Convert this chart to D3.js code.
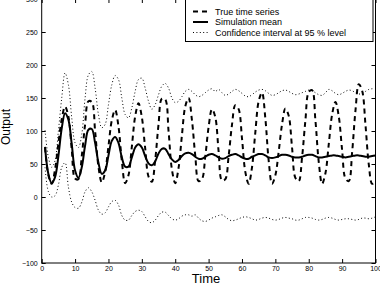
<!DOCTYPE html>
<html>
<head>
<meta charset="utf-8">
<script src="https://cdn.jsdelivr.net/npm/d3@7"></script>
<style>
  html, body { margin: 0; padding: 0; background: #fff; }
  svg { display: block; font-family: "Liberation Sans", Arial, sans-serif; }
</style>
</head>
<body>
<svg id="chart" width="380" height="286"></svg>
<script>
// time steps 1..100
const time = d3.range(1, 101);

const trueSeries = [
  75, 33, 20, 42, 81, 118, 137, 122, 72, 28,
  27, 62, 110, 145, 144, 100, 46, 22, 38, 77,
  116, 132, 107, 55, 21, 33, 76, 122, 142, 121,
  74, 31, 23, 56, 110, 149, 148, 100, 42, 21,
  44, 93, 137, 150, 117, 63, 24, 27, 61, 106,
  133, 121, 69, 25, 27, 62, 109, 139, 133, 89,
  38, 20, 45, 98, 145, 158, 119, 55, 20, 33,
  69, 110, 134, 123, 75, 29, 24, 60, 116, 159,
  162, 116, 53, 20, 36, 80, 125, 144, 122, 71,
  28, 24, 68, 131, 171, 161, 109, 49, 20, 24
];

const simMean = [
  76, 35, 21, 30, 62, 104, 127, 117, 80, 40,
  29, 45, 78, 102, 103, 82, 52, 35, 40, 63,
  85, 91, 82, 60, 46, 46, 60, 75, 80, 75,
  62, 51, 48, 54, 66, 73, 73, 65, 57, 53,
  56, 62, 66, 67, 65, 61, 58, 58, 61, 64,
  65, 63, 60, 58, 59, 62, 64, 65, 63, 60,
  58, 58, 61, 63, 65, 65, 63, 60, 59, 60,
  62, 64, 64, 63, 61, 60, 60, 61, 63, 64,
  64, 62, 60, 60, 61, 62, 63, 63, 62, 61,
  60, 61, 62, 63, 63, 62, 61, 61, 62, 63
];

const ciUpper = [
  101, 60, 45, 55, 100, 150, 188, 170, 120, 82,
  75, 95, 150, 185, 190, 165, 125, 105, 110, 140,
  170, 184, 178, 150, 125, 120, 135, 160, 178, 180,
  165, 145, 133, 140, 155, 168, 172, 165, 150, 143,
  145, 152, 160, 163, 160, 155, 152, 154, 158, 162,
  164, 160, 163, 158, 154, 156, 160, 163, 161, 157,
  153, 152, 155, 159, 162, 163, 161, 157, 154, 155,
  158, 161, 162, 160, 157, 155, 156, 158, 160, 162,
  161, 158, 155, 154, 158, 163, 161, 157, 155, 157,
  160, 162, 161, 158, 156, 157, 160, 163, 164, 164
];

const ciLower = [
  45, 8, 0, 2, 18, 45, 52, 15, -8, -16,
  -17, -8, 8, 14, 8, -5, -20, -26, -24, -15,
  -7, -5, -12, -28, -35, -35, -28, -22, -20, -22,
  -30, -37, -39, -35, -28, -23, -23, -28, -33, -35,
  -33, -29, -27, -27, -29, -27, -32, -36, -37, -35,
  -32, -30, -28, -27, -30, -34, -36, -35, -33, -31,
  -30, -31, -33, -35, -34, -32, -31, -32, -34, -35,
  -34, -32, -31, -32, -33, -35, -35, -33, -31, -31,
  -32, -34, -35, -34, -32, -31, -32, -34, -35, -34,
  -33, -33, -34, -35, -34, -32, -32, -33, -32, -30
];

const xTicks = [0, 10, 20, 30, 40, 50, 60, 70, 80, 90, 100];
const yTicks = [-100, -50, 0, 50, 100, 150, 200, 250, 300];

const legendItems = [
  { label: "True time series", dash: "5,4", width: 2 },
  { label: "Simulation mean", dash: null, width: 2 },
  { label: "Confidence interval at 95 % level", dash: "1,2.4", width: 1 }
];

const svg = d3.select("#chart");
const plotLeft = 41.7, plotRight = 375.5, plotTop = -1, plotBottom = 263;

const x = d3.scaleLinear().domain([0, 100]).range([plotLeft, plotRight]);
const y = d3.scaleLinear().domain([-100, 300]).range([plotBottom, plotTop]);

svg.append("defs").append("clipPath").attr("id", "plotClip")
  .append("rect")
  .attr("x", plotLeft).attr("y", plotTop)
  .attr("width", plotRight - plotLeft).attr("height", plotBottom - plotTop);

const lineFor = (values) => d3.line()
  .x((d, i) => x(time[i]))
  .y((d) => y(d))
  .curve(d3.curveCatmullRom)(values);

const plot = svg.append("g").attr("clip-path", "url(#plotClip)");

plot.append("path").attr("d", lineFor(ciUpper))
  .attr("fill", "none").attr("stroke", "#000")
  .attr("stroke-width", 1).attr("stroke-dasharray", "1,2.4");

plot.append("path").attr("d", lineFor(ciLower))
  .attr("fill", "none").attr("stroke", "#000")
  .attr("stroke-width", 1).attr("stroke-dasharray", "1,2.4");

plot.append("path").attr("d", lineFor(trueSeries))
  .attr("fill", "none").attr("stroke", "#000")
  .attr("stroke-width", 2).attr("stroke-dasharray", "5,4");

plot.append("path").attr("d", lineFor(simMean))
  .attr("fill", "none").attr("stroke", "#000")
  .attr("stroke-width", 2);

// axes: inward ticks on all four sides
const tickLen = 4;
svg.append("g").attr("transform", `translate(0,${plotBottom})`)
  .call(d3.axisBottom(x).tickValues(xTicks).tickSizeInner(-tickLen).tickSizeOuter(0).tickPadding(3))
  .call((g) => g.select(".domain").remove());
svg.append("g").attr("transform", `translate(0,${plotTop})`)
  .call(d3.axisTop(x).tickValues(xTicks).tickSizeInner(-tickLen).tickSizeOuter(0).tickFormat(""))
  .call((g) => g.select(".domain").remove());
svg.append("g").attr("transform", `translate(${plotLeft},0)`)
  .call(d3.axisLeft(y).tickValues(yTicks).tickSizeInner(-tickLen).tickSizeOuter(0).tickPadding(4))
  .call((g) => g.select(".domain").remove());
svg.append("g").attr("transform", `translate(${plotRight},0)`)
  .call(d3.axisRight(y).tickValues(yTicks).tickSizeInner(-tickLen).tickSizeOuter(0).tickFormat(""))
  .call((g) => g.select(".domain").remove());

svg.selectAll(".tick text")
  .attr("font-size", 7)
  .attr("font-family", "'Liberation Sans', Arial, sans-serif")
  .attr("fill", "#000");
svg.selectAll(".tick line").attr("stroke", "#000");

svg.append("rect")
  .attr("x", plotLeft).attr("y", plotTop)
  .attr("width", plotRight - plotLeft).attr("height", plotBottom - plotTop)
  .attr("fill", "none").attr("stroke", "#000").attr("stroke-width", 1);

// axis titles
svg.append("text")
  .attr("x", 206).attr("y", 283)
  .attr("text-anchor", "middle")
  .attr("font-size", 13)
  .text("Time");

svg.append("text")
  .attr("transform", "translate(10,127) rotate(-90)")
  .attr("text-anchor", "middle")
  .attr("font-size", 12)
  .text("Output");

// legend
const legend = svg.append("g");
legend.append("rect")
  .attr("x", 185.5).attr("y", plotTop)
  .attr("width", 373 - 185.5).attr("height", 41.5 - plotTop)
  .attr("fill", "#fff").attr("stroke", "#000").attr("stroke-width", 1);

legendItems.forEach((item, i) => {
  const ly = 11.5 + i * 10.5;
  legend.append("line")
    .attr("x1", 193).attr("x2", 208)
    .attr("y1", ly).attr("y2", ly)
    .attr("stroke", "#000")
    .attr("stroke-width", item.width)
    .attr("stroke-dasharray", item.dash);
  legend.append("text")
    .attr("x", 215).attr("y", ly + 3)
    .attr("font-size", 9)
    .text(item.label);
});
</script>
</body>
</html>
